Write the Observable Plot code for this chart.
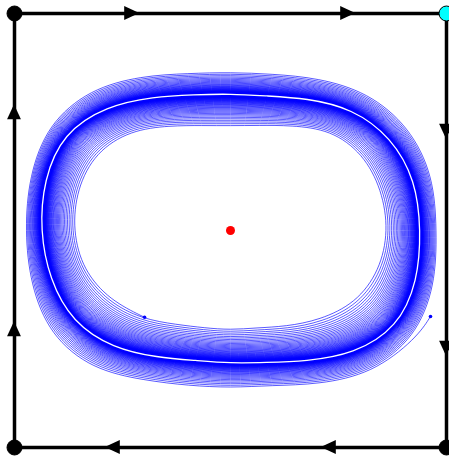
<!DOCTYPE html>
<html><head><meta charset="utf-8">
<script src="https://cdn.jsdelivr.net/npm/d3@7"></script>
<script src="https://cdn.jsdelivr.net/npm/@observablehq/plot@0.6"></script>
<style>body{margin:0;background:#fff;overflow:hidden}#chart svg{display:block}</style>
</head><body><div id="chart"></div>
<script>
// polar description (about the interior equilibrium) of the curves
const angles = [0,15,30,45,60,75,90,105,120,135,150,165,180,195,210,225,240,255,270,285,300,315,330,345];
const outerR = [.480,.489,.481,.453,.409,.376,.367,.377,.414,.463,.490,.484,.477,.481,.484,.454,.400,.371,.363,.370,.410,.465,.497,.494];
const cycleR = [.441,.444,.430,.398,.352,.321,.315,.324,.356,.406,.448,.448,.441,.434,.423,.384,.338,.310,.306,.315,.348,.403,.447,.449];
const innerR = [.363,.360,.352,.326,.278,.249,.240,.249,.278,.326,.360,.368,.365,.353,.322,.283,.245,.228,.225,.228,.251,.287,.330,.354];
const equilibrium = [0.5, 0.5];
const outerStart = [0.963, 0.302];
const innerStart = [0.301, 0.300];
const cornerX = [0, 1, 1, 0];
const cornerY = [1, 1, 0, 0];
const cornerColor = ["black", "cyan", "black", "black"];
const arrowBase = [0.255, 0.755];

const n = angles.length;
function spiral(boundR, startIdx, start, decay, turns) {
  const pts = [{x: start[0], y: start[1]}];
  for (let j = 0; j <= turns * n; j++) {
    const k = ((startIdx - j) % n + n) % n;
    const f = Math.pow(decay, j / n);
    const r = cycleR[k] + (boundR[k] - cycleR[k]) * f;
    const t = angles[k] * Math.PI / 180;
    pts.push({x: equilibrium[0] + r * Math.cos(t), y: equilibrium[1] + r * Math.sin(t)});
  }
  return pts;
}
const outerSpiral = spiral(outerR, 22, outerStart, 0.93, 110);
const innerSpiral = spiral(innerR, 14, innerStart, 0.94, 120);
const cycle = angles.map((a, k) => ({x: equilibrium[0] + cycleR[k] * Math.cos(a * Math.PI / 180), y: equilibrium[1] + cycleR[k] * Math.sin(a * Math.PI / 180)}));
const corners = cornerX.map((x, i) => ({x, y: cornerY[i], c: cornerColor[i]}));

// arrowheads along the boundary (clockwise flow)
const L = 0.035, H = 0.016;
const hArrows = [], vArrows = [];
arrowBase.forEach((s, i) => {
  hArrows.push({id: "t" + i, x: s, y1: 1 - H, y2: 1 + H}, {id: "t" + i, x: s + L, y1: 1, y2: 1});
  const b = 1 - s;
  hArrows.push({id: "b" + i, x: b, y1: -H, y2: H}, {id: "b" + i, x: b - L, y1: 0, y2: 0});
  vArrows.push({id: "l" + i, y: s, x1: -H, x2: H}, {id: "l" + i, y: s + L, x1: 0, x2: 0});
  vArrows.push({id: "r" + i, y: b, x1: 1 - H, x2: 1 + H}, {id: "r" + i, y: b - L, x1: 1, x2: 1});
});

const chart = Plot.plot({
  width: 449, height: 460,
  marginLeft: 14, marginRight: 3, marginTop: 13, marginBottom: 13,
  x: {domain: [0, 1], axis: null},
  y: {domain: [0, 1], axis: null},
  marks: [
    Plot.line(outerSpiral, {x: "x", y: "y", curve: "basis", stroke: "#0000ff", strokeWidth: 0.65}),
    Plot.line(innerSpiral, {x: "x", y: "y", curve: "basis", stroke: "#0000ff", strokeWidth: 0.65}),
    Plot.line(cycle, {x: "x", y: "y", curve: "basis-closed", stroke: "white", strokeWidth: 1.3}),
    Plot.line(corners, {x: "x", y: "y", curve: "linear-closed", stroke: "black", strokeWidth: 3.5}),
    Plot.areaY(hArrows, {x: "x", y1: "y1", y2: "y2", z: "id", fill: "black"}),
    Plot.areaX(vArrows, {y: "y", x1: "x1", x2: "x2", z: "id", fill: "black"}),
    Plot.dot([equilibrium], {x: d => d[0], y: d => d[1], r: 4.5, fill: "red"}),
    Plot.dot([outerStart, innerStart], {x: d => d[0], y: d => d[1], r: 1.8, fill: "#0000ff"}),
    Plot.dot(corners, {x: "x", y: "y", r: 7.5, fill: "c", stroke: "black", strokeWidth: 1})
  ]
});
document.getElementById("chart").append(chart);
</script>
</body></html>
